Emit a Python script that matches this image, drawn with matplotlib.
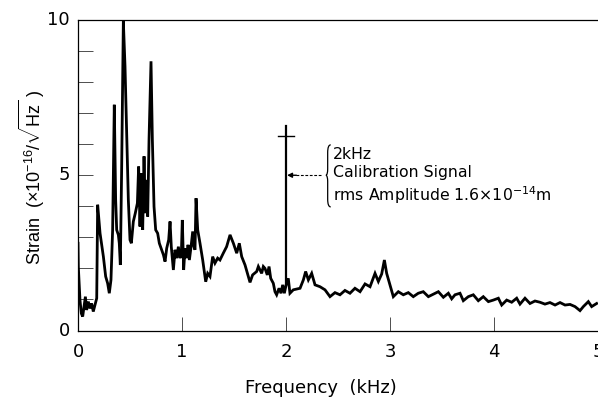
import matplotlib
matplotlib.use("Agg")
import matplotlib.pyplot as plt
from matplotlib.path import Path
from matplotlib.patches import PathPatch

plt.rcParams['font.family'] = ['DejaVu Sans']
plt.rcParams['mathtext.fontset'] = 'dejavusans'
plt.rcParams['mathtext.rm'] = 'Liberation Sans'
plt.rcParams['mathtext.it'] = 'Liberation Sans'

# ---- data (frequency in kHz, strain in 1e-16/sqrt(Hz)) ----
freq = [0.0, 0.003, 0.019, 0.032, 0.045, 0.058, 0.071, 0.083, 0.099, 0.115, 0.131, 0.147, 0.163, 0.18,
        0.189, 0.212, 0.244, 0.266, 0.285, 0.301, 0.317, 0.333, 0.349, 0.362, 0.372, 0.388, 0.397, 0.407,
        0.42, 0.436, 0.452, 0.468, 0.484, 0.5, 0.513, 0.532, 0.551, 0.571, 0.583, 0.596, 0.609, 0.622,
        0.635, 0.647, 0.66, 0.67, 0.683, 0.692, 0.702, 0.715, 0.731, 0.747, 0.766, 0.782, 0.804, 0.821,
        0.837, 0.853, 0.872, 0.885, 0.897, 0.917, 0.933, 0.949, 0.965, 0.981, 0.994, 1.003, 1.016, 1.029,
        1.045, 1.058, 1.071, 1.087, 1.103, 1.115, 1.125, 1.135, 1.151, 1.173, 1.199, 1.228, 1.247, 1.269,
        1.295, 1.317, 1.343, 1.365, 1.397, 1.429, 1.462, 1.494, 1.526, 1.551, 1.574, 1.606, 1.638, 1.654,
        1.679, 1.718, 1.734, 1.766, 1.782, 1.798, 1.82, 1.837, 1.853, 1.878, 1.894, 1.91, 1.933, 1.952,
        1.968, 1.984, 2.0, 2.022, 2.038, 2.07, 2.135, 2.167, 2.189, 2.215, 2.247, 2.279, 2.327, 2.375,
        2.423, 2.471, 2.519, 2.567, 2.615, 2.663, 2.712, 2.76, 2.808, 2.856, 2.888, 2.92, 2.946, 2.968,
        3.0, 3.032, 3.08, 3.128, 3.176, 3.224, 3.272, 3.32, 3.369, 3.417, 3.465, 3.513, 3.561, 3.593,
        3.625, 3.673, 3.705, 3.753, 3.801, 3.849, 3.897, 3.946, 3.994, 4.042, 4.074, 4.122, 4.17, 4.218,
        4.25, 4.298, 4.346, 4.394, 4.442, 4.49, 4.538, 4.587, 4.635, 4.683, 4.731, 4.779, 4.827, 4.859,
        4.907, 4.939, 4.987]
strain = [2.81, 2.06, 0.98, 0.55, 0.45, 0.77, 1.09, 0.66, 0.93, 0.71, 0.87, 0.61, 0.82, 1.04,
          4.05, 3.13, 2.38, 1.74, 1.52, 1.2, 1.63, 3.24, 7.27, 4.21, 3.24, 3.08, 2.81, 2.11,
          5.28, 9.96, 8.51, 6.36, 4.21, 2.92, 2.81, 3.51, 3.78, 4.1, 5.28, 3.35, 5.07, 3.24,
          5.61, 3.78, 4.85, 3.67, 6.15, 7.4, 8.67, 6.15, 3.99, 3.24, 3.13, 2.81, 2.6, 2.44,
          2.22, 2.65, 2.92, 3.51, 2.7, 1.95, 2.6, 2.33, 2.7, 2.33, 2.49, 3.56, 1.95, 2.65,
          2.33, 2.76, 2.27, 2.7, 3.19, 2.7, 2.6, 4.26, 3.24, 2.81, 2.27, 1.57, 1.84, 1.74,
          2.38, 2.17, 2.33, 2.27, 2.49, 2.7, 3.08, 2.81, 2.49, 2.81, 2.38, 2.11, 1.74, 1.55,
          1.79, 1.9, 2.06, 1.84, 2.06, 2.0, 1.79, 2.06, 1.68, 1.52, 1.25, 1.15, 1.36, 1.2,
          1.47, 1.2, 1.45, 1.68, 1.2, 1.31, 1.36, 1.63, 1.9, 1.63, 1.84, 1.47, 1.41, 1.31,
          1.09, 1.22, 1.15, 1.29, 1.2, 1.36, 1.25, 1.5, 1.41, 1.84, 1.58, 1.82, 2.27, 1.84,
          1.47, 1.09, 1.25, 1.15, 1.22, 1.09, 1.2, 1.25, 1.09, 1.17, 1.25, 1.07, 1.2, 1.02,
          1.15, 1.2, 0.96, 1.09, 1.15, 0.96, 1.09, 0.93, 0.98, 1.04, 0.82, 0.98, 0.91, 1.04,
          0.85, 1.04, 0.87, 0.95, 0.91, 0.85, 0.9, 0.82, 0.9, 0.82, 0.84, 0.77, 0.64, 0.77,
          0.93, 0.77, 0.87]

cal_freq = 2.0          # calibration line frequency (kHz)
cal_top = 6.6           # top of calibration line
cal_bar = 6.25          # level of the horizontal cross bar
cal_pointer = 5.0       # level where the annotation points

xticks = [0, 1, 2, 3, 4, 5]
yticks = [0, 5, 10]
annotation = "2kHz\nCalibration Signal\nrms Amplitude 1.6$\\times$10$^{-14}$m"

# ---- figure ----
fig = plt.figure(figsize=(5.98, 4.05), dpi=100)
ax = fig.add_axes([78 / 598, (405 - 330.5) / 405, 520 / 598, 310.5 / 405])

ax.plot(freq, strain, color='black', lw=2.0, solid_joinstyle='miter')

# calibration line
ax.plot([cal_freq, cal_freq], [strain[freq.index(cal_freq)], cal_top], color='black', lw=1.6)
ax.plot([cal_freq - 0.08, cal_freq + 0.08], [cal_bar, cal_bar], color='black', lw=1.0)

# pointer: short arrow + dashed leader
ax.annotate('', xy=(cal_freq + 0.01, cal_pointer), xytext=(cal_freq + 0.1, cal_pointer),
            arrowprops=dict(arrowstyle='-|>', color='black', lw=1.0, mutation_scale=7,
                            shrinkA=0, shrinkB=0))
ax.plot([cal_freq + 0.1, cal_freq + 0.35], [cal_pointer, cal_pointer], color='black', lw=0.8,
        ls=(0, (2.5, 1.5)))

# brace
bx = cal_freq + 0.385   # tip
bw = 0.045
ytop, ybot = 5.98, 3.98
ym = cal_pointer
verts = [(bx + bw, ytop), (bx + bw * 0.35, ytop), (bx + bw * 0.35, ytop - 0.25),
         (bx + bw * 0.35, ym + 0.2), (bx + bw * 0.35, ym + 0.02), (bx, ym),
         (bx + bw * 0.35, ym - 0.02), (bx + bw * 0.35, ym - 0.2),
         (bx + bw * 0.35, ybot + 0.25), (bx + bw * 0.35, ybot), (bx + bw, ybot)]
codes = [Path.MOVETO, Path.CURVE3, Path.CURVE3, Path.LINETO, Path.CURVE3, Path.CURVE3,
         Path.CURVE3, Path.CURVE3, Path.LINETO, Path.CURVE3, Path.CURVE3]
ax.add_patch(PathPatch(Path(verts, codes), fill=False, lw=0.9, color='black'))

ax.text(bx + 0.07, 4.97, annotation, fontsize=11.3, va='center', ha='left', linespacing=1.25)

ax.set_xlim(0, 5)
ax.set_ylim(0, 10)
ax.set_xticks(xticks)
ax.set_yticks(yticks)
ax.set_yticks(range(0, 11), minor=True)
ax.tick_params(axis='both', which='both', direction='in', width=0.7, color='0.3')
ax.tick_params(axis='x', which='major', length=10, pad=9, labelsize=13)
ax.tick_params(axis='y', which='major', length=11, pad=6, labelsize=13)
ax.tick_params(axis='y', which='minor', length=11)
for t in ax.get_yticklabels():
    t.set_va('center')
ax.spines['right'].set_visible(False)
for s in ['left', 'top', 'bottom']:
    ax.spines[s].set_linewidth(0.9)

fig.text(321 / 598, 1 - 388 / 405, 'Frequency  (kHz)', fontsize=13, ha='center', va='center')
fig.text(32 / 598, 1 - 177 / 405, r'Strain  ($\times$10$^{-16}$/$\sqrt{\mathrm{Hz}}$ )',
         fontsize=13, ha='center', va='center', rotation=90,
         family='Liberation Sans', math_fontfamily='custom')

fig.savefig('out.png', dpi=100)
